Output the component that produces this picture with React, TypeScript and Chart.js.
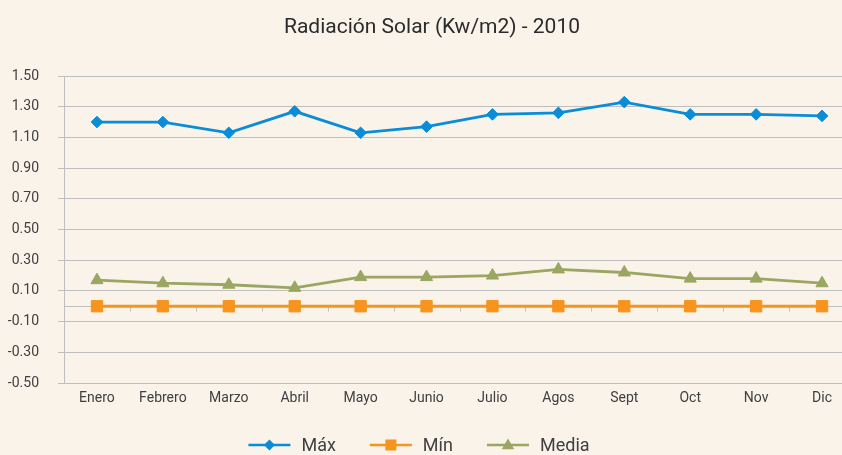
import React, { useEffect, useRef } from "react";
import { Chart, registerables } from "chart.js";

Chart.register(...registerables);

const TITLE = "Radiación Solar (Kw/m2) - 2010";
const MONTHS = ["Enero", "Febrero", "Marzo", "Abril", "Mayo", "Junio", "Julio", "Agos", "Sept", "Oct", "Nov", "Dic"];
const MAX_VALUES = [1.2, 1.2, 1.13, 1.27, 1.13, 1.17, 1.25, 1.26, 1.33, 1.25, 1.25, 1.24];
const MIN_VALUES = [0, 0, 0, 0, 0, 0, 0, 0, 0, 0, 0, 0];
const MEDIA_VALUES = [0.17, 0.15, 0.14, 0.12, 0.19, 0.19, 0.2, 0.24, 0.22, 0.18, 0.18, 0.15];
const SERIES_NAMES = ["Máx", "Mín", "Media"];
const Y_MIN = -0.5;
const Y_MAX = 1.5;
const Y_STEP = 0.2;

const BG = "#F9F3EA";
const GRID = "#BFBFBF";
const TEXT = "#404040";
const BLUE = "#0A8DD6";
const ORANGE = "#F7941D";
const GREEN = "#9AA661";
const MARKERS = ["diamond", "square", "triangle"];

function drawMarker(ctx: CanvasRenderingContext2D, kind: string, x: number, y: number, color: string) {
  ctx.save();
  ctx.fillStyle = color;
  ctx.beginPath();
  if (kind === "diamond") {
    const r = 5.5;
    ctx.moveTo(x, y - r);
    ctx.lineTo(x + r, y);
    ctx.lineTo(x, y + r);
    ctx.lineTo(x - r, y);
  } else if (kind === "square") {
    const s = 5.5;
    ctx.rect(x - s, y - s, 2 * s, 2 * s);
  } else {
    const r = 6.5;
    ctx.moveTo(x, y - r);
    ctx.lineTo(x + r * 0.95, y + r * 0.65);
    ctx.lineTo(x - r * 0.95, y + r * 0.65);
  }
  ctx.closePath();
  ctx.fill();
  ctx.restore();
}

const bgPlugin = {
  id: "bgPlugin",
  beforeDraw(chart: any) {
    const ctx = chart.ctx;
    ctx.save();
    ctx.fillStyle = BG;
    ctx.fillRect(0, 0, chart.width, chart.height);
    ctx.restore();
  },
};

const zeroAxisPlugin = {
  id: "zeroAxisPlugin",
  beforeDatasetsDraw(chart: any) {
    const { ctx, chartArea, scales } = chart;
    const y0 = Math.round(scales.y.getPixelForValue(0)) + 0.5;
    ctx.save();
    ctx.strokeStyle = GRID;
    ctx.lineWidth = 1;
    ctx.beginPath();
    ctx.moveTo(chartArea.left, y0);
    ctx.lineTo(chartArea.right, y0);
    const n = MONTHS.length;
    const w = (chartArea.right - chartArea.left) / n;
    for (let i = 1; i < n; i++) {
      const x = Math.round(chartArea.left + i * w) + 0.5;
      ctx.moveTo(x, y0);
      ctx.lineTo(x, y0 + 5);
    }
    ctx.stroke();
    ctx.restore();
  },
};

const titleLegendPlugin = {
  id: "titleLegendPlugin",
  afterDraw(chart: any) {
    const ctx: CanvasRenderingContext2D = chart.ctx;
    ctx.save();
    ctx.fillStyle = "#2B2B2B";
    ctx.font = "21px Roboto";
    ctx.textAlign = "center";
    ctx.textBaseline = "alphabetic";
    ctx.fillText(TITLE, chart.width / 2, 33);

    ctx.font = "18px Roboto";
    const lineLen = 42;
    const gapText = 11;
    const gapItem = 34;
    const datasets = chart.data.datasets;
    const widths = datasets.map((d: any) => ctx.measureText(d.label).width);
    let total = 0;
    widths.forEach((w: number, i: number) => {
      total += lineLen + gapText + w + (i < widths.length - 1 ? gapItem : 0);
    });
    let x = 419 - total / 2;
    const ly = 445;
    datasets.forEach((d: any, i: number) => {
      ctx.strokeStyle = d.borderColor;
      ctx.lineWidth = 2.5;
      ctx.beginPath();
      ctx.moveTo(x, ly);
      ctx.lineTo(x + lineLen, ly);
      ctx.stroke();
      drawMarker(ctx, MARKERS[i], x + lineLen / 2, ly, d.borderColor);
      ctx.fillStyle = TEXT;
      ctx.textAlign = "left";
      ctx.fillText(d.label, x + lineLen + gapText, 451);
      x += lineLen + gapText + widths[i] + gapItem;
    });
    ctx.restore();
  },
};

export default function App() {
  const canvasRef = useRef<HTMLCanvasElement | null>(null);

  useEffect(() => {
    const canvas = canvasRef.current;
    if (!canvas) return;
    const chart = new Chart(canvas, {
      type: "line",
      data: {
        labels: MONTHS,
        datasets: [
          {
            label: SERIES_NAMES[0],
            data: MAX_VALUES,
            borderColor: BLUE,
            backgroundColor: BLUE,
            borderWidth: 2.8,
            pointStyle: "rectRot",
            pointRadius: 5.8,
            pointBorderWidth: 1,
            pointBackgroundColor: BLUE,
            pointBorderColor: BLUE,
            tension: 0,
          },
          {
            label: SERIES_NAMES[1],
            data: MIN_VALUES,
            borderColor: ORANGE,
            backgroundColor: ORANGE,
            borderWidth: 2.8,
            pointStyle: "rect",
            pointRadius: 8,
            pointBorderWidth: 1,
            pointBackgroundColor: ORANGE,
            pointBorderColor: ORANGE,
            tension: 0,
          },
          {
            label: SERIES_NAMES[2],
            data: MEDIA_VALUES,
            borderColor: GREEN,
            backgroundColor: GREEN,
            borderWidth: 2.8,
            pointStyle: "triangle",
            pointRadius: 7,
            pointBorderWidth: 1,
            pointBackgroundColor: GREEN,
            pointBorderColor: GREEN,
            tension: 0,
          },
        ],
      },
      options: {
        responsive: false,
        animation: false,
        devicePixelRatio: 1,
        layout: { padding: { left: 0, right: 9, top: 76, bottom: 0 } },
        plugins: {
          legend: { display: false },
          title: { display: false },
          tooltip: { enabled: false },
        },
        scales: {
          x: {
            type: "category",
            offset: true,
            grid: { display: false, drawTicks: false },
            border: { display: false },
            ticks: {
              color: TEXT,
              font: { family: "Roboto", size: 14 },
              padding: 7,
              maxRotation: 0,
              autoSkip: false,
            },
            afterFit(scale: any) {
              scale.height = 72;
            },
          },
          y: {
            type: "linear",
            min: Y_MIN,
            max: Y_MAX,
            grid: { color: GRID, lineWidth: 1, drawTicks: true, tickLength: 6 },
            border: { display: true, color: GRID, width: 1 },
            ticks: {
              stepSize: Y_STEP,
              color: TEXT,
              font: { family: "Roboto", size: 14 },
              padding: 19,
              callback: (v: any) => Number(v).toFixed(2),
            },
            afterFit(scale: any) {
              scale.width = 64;
            },
          },
        },
      },
      plugins: [bgPlugin, zeroAxisPlugin, titleLegendPlugin],
    } as any);
    return () => chart.destroy();
  }, []);

  return (
    <div
      style={{
        position: "fixed",
        left: 0,
        top: 0,
        width: 842,
        height: 455,
        overflow: "hidden",
        background: BG,
      }}
    >
      <canvas ref={canvasRef} width={864} height={455} style={{ display: "block", width: 864, height: 455 }} />
    </div>
  );
}
